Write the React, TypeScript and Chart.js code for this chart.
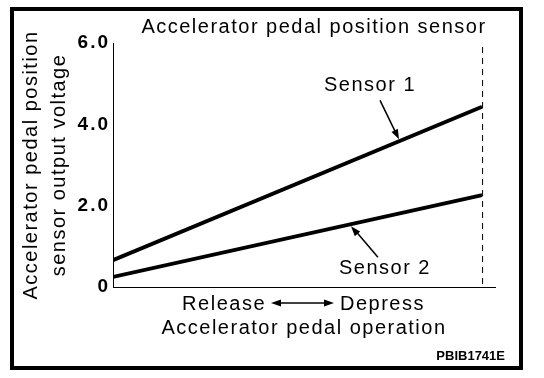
import React, { useEffect, useRef } from "react";
import { Chart, registerables } from "chart.js";

Chart.register(...registerables);

// Pedal travel: 0 = released, 1 = fully depressed
const pedalPositions = [0, 1];
const sensor1Voltage = [0.66, 4.43];
const sensor2Voltage = [0.25, 2.26];
const yTicks = [0, 2, 4, 6];

const chartTitle = "Accelerator pedal position sensor";
const yTitleLines = ["Accelerator pedal position", "sensor output voltage"];
const xLabelTop = ["Release", "Depress"];
const xTitle = "Accelerator pedal operation";
const seriesNames = ["Sensor 1", "Sensor 2"];
const figureCode = "PBIB1741E";

const FONT = "'Liberation Sans', Arial, sans-serif";

function arrowHead(ctx: CanvasRenderingContext2D, x0: number, y0: number, x1: number, y1: number, len: number, half: number) {
  const a = Math.atan2(y1 - y0, x1 - x0);
  ctx.beginPath();
  ctx.moveTo(x1, y1);
  ctx.lineTo(x1 - len * Math.cos(a) + half * Math.sin(a), y1 - len * Math.sin(a) - half * Math.cos(a));
  ctx.lineTo(x1 - len * Math.cos(a) - half * Math.sin(a), y1 - len * Math.sin(a) + half * Math.cos(a));
  ctx.closePath();
  ctx.fill();
}

const decorPlugin = {
  id: "decor",
  beforeDraw(chart: any) {
    (chart.ctx as any).letterSpacing = "2px";
  },
  afterDraw(chart: any) {
    const ctx: CanvasRenderingContext2D = chart.ctx;
    const xs = chart.scales.x;
    const ys = chart.scales.y;
    const area = chart.chartArea;
    ctx.save();
    ctx.fillStyle = "#000";
    ctx.strokeStyle = "#000";

    // frame
    ctx.lineWidth = 4;
    ctx.strokeRect(12, 9, 509, 359);

    // dashed full-depress line
    const xEnd = xs.getPixelForValue(pedalPositions[1]);
    ctx.lineWidth = 1;
    ctx.setLineDash([6, 5]);
    ctx.beginPath();
    ctx.moveTo(xEnd + 0.5, area.top + 4);
    ctx.lineTo(xEnd + 0.5, area.bottom);
    ctx.stroke();
    ctx.setLineDash([]);

    (ctx as any).letterSpacing = "1.5px";
    ctx.font = `20px ${FONT}`;
    ctx.textAlign = "center";
    ctx.textBaseline = "middle";
    ctx.fillText(chartTitle, 314, 27);

    // y title
    ctx.save();
    ctx.translate(31, 165);
    ctx.rotate(-Math.PI / 2);
    ctx.fillText(yTitleLines[0], 0, 0);
    ctx.restore();
    ctx.save();
    ctx.translate(59, 165);
    ctx.rotate(-Math.PI / 2);
    ctx.fillText(yTitleLines[1], 0, 0);
    ctx.restore();

    // x labels
    ctx.textAlign = "right";
    ctx.fillText(xLabelTop[0], 266, 304);
    ctx.textAlign = "left";
    ctx.fillText(xLabelTop[1], 340, 304);
    ctx.textAlign = "center";
    ctx.fillText(xTitle, 304, 328);
    ctx.lineWidth = 1.5;
    ctx.beginPath();
    ctx.moveTo(275, 303);
    ctx.lineTo(330, 303);
    ctx.stroke();
    arrowHead(ctx, 300, 303, 271, 303, 10, 3.5);
    arrowHead(ctx, 300, 303, 334, 303, 10, 3.5);

    // sensor callouts (tips computed on the data lines)
    const interp = (arr: number[], t: number) => arr[0] + (arr[1] - arr[0]) * t;
    const t1 = 0.775;
    const tip1x = xs.getPixelForValue(t1);
    const tip1y = ys.getPixelForValue(interp(sensor1Voltage, t1));
    ctx.fillText(seriesNames[0], tip1x - 29, tip1y - 56);
    ctx.lineWidth = 1.5;
    ctx.beginPath();
    ctx.moveTo(tip1x - 19, tip1y - 41);
    ctx.lineTo(tip1x - 2, tip1y - 6);
    ctx.stroke();
    arrowHead(ctx, tip1x - 19, tip1y - 41, tip1x, tip1y - 2, 10, 3.5);

    const t2 = 0.642;
    const tip2x = xs.getPixelForValue(t2);
    const tip2y = ys.getPixelForValue(interp(sensor2Voltage, t2));
    ctx.fillText(seriesNames[1], tip2x + 35, tip2y + 44);
    ctx.beginPath();
    ctx.moveTo(tip2x + 28, tip2y + 33);
    ctx.lineTo(tip2x + 5, tip2y + 6);
    ctx.stroke();
    arrowHead(ctx, tip2x + 28, tip2y + 33, tip2x + 1, tip2y + 2, 10, 3.5);

    (ctx as any).letterSpacing = "0px";
    ctx.font = `bold 13px ${FONT}`;
    ctx.textAlign = "right";
    ctx.fillText(figureCode, 505, 356);
    ctx.restore();
    (ctx as any).letterSpacing = "0px";
  },
};

export default function App() {
  const ref = useRef<HTMLCanvasElement | null>(null);
  useEffect(() => {
    if (!ref.current) return;
    const toPts = (ys: number[]) => pedalPositions.map((x, i) => ({ x, y: ys[i] }));
    const chart = new Chart(ref.current, {
      type: "line",
      data: {
        datasets: [
          { label: seriesNames[0], data: toPts(sensor1Voltage), borderColor: "#000", borderWidth: 3.8, pointRadius: 0, tension: 0 },
          { label: seriesNames[1], data: toPts(sensor2Voltage), borderColor: "#000", borderWidth: 3.8, pointRadius: 0, tension: 0 },
        ],
      },
      options: {
        animation: false,
        responsive: false,
        devicePixelRatio: 1,
        layout: { padding: { left: 0, top: 43, right: 49, bottom: 0 } },
        plugins: { legend: { display: false }, tooltip: { enabled: false }, title: { display: false } },
        scales: {
          x: {
            type: "linear",
            min: 0,
            max: 1.035,
            grid: { display: false, drawTicks: false },
            border: { display: true, color: "#000", width: 1 },
            ticks: { display: false },
            afterFit: (s: any) => { s.height = 378 - 287; },
          },
          y: {
            type: "linear",
            min: 0,
            max: 6,
            afterBuildTicks: (s: any) => { s.ticks = yTicks.map((v) => ({ value: v })); },
            grid: { display: false, drawTicks: false },
            border: { display: true, color: "#000", width: 1 },
            ticks: {
              color: "#000",
              padding: 3,
              font: { family: FONT, size: 19, weight: "bold" },
              callback: (v: any) => (Number(v) === 0 ? "0" : Number(v).toFixed(1)),
            },
            afterFit: (s: any) => { s.width = 113; },
          },
        },
      },
      plugins: [decorPlugin],
    } as any);
    return () => chart.destroy();
  }, []);
  return (
    <div style={{ position: "fixed", left: 0, top: 0, width: 544, height: 378, background: "#fff" }}>
      <canvas ref={ref} width={544} height={378} style={{ width: 544, height: 378, display: "block" }} />
    </div>
  );
}
